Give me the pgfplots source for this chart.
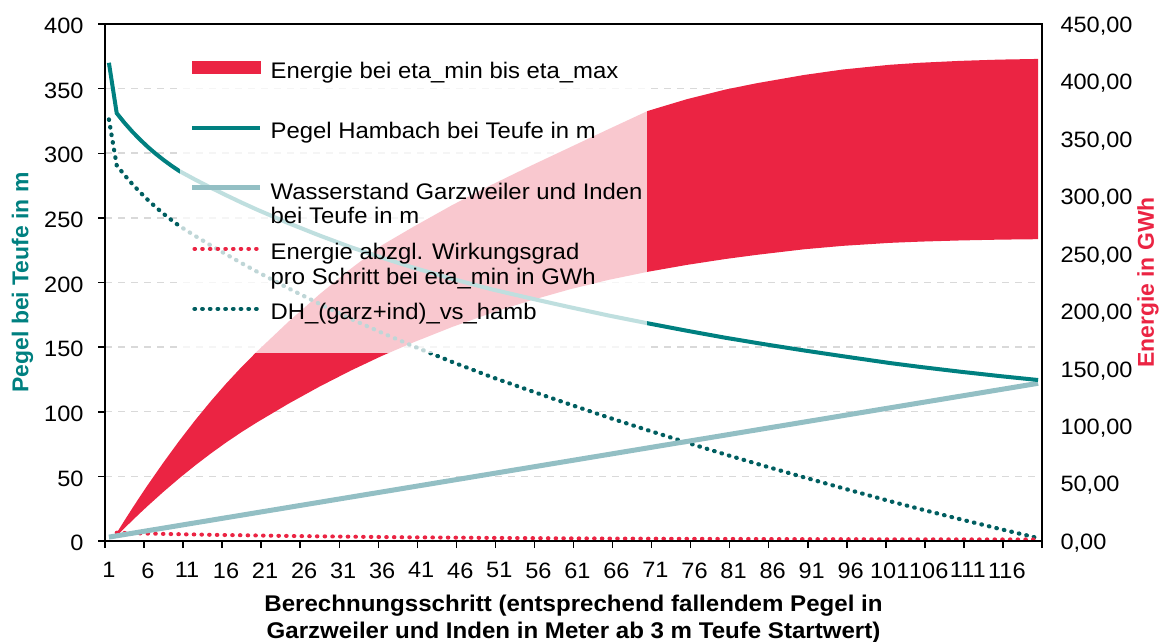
\documentclass[border=0pt]{standalone}
\usepackage{fontspec}
\setmainfont[FakeStretch=1.06]{Liberation Sans}
\newfontfamily\rotfont{Liberation Sans}
\usepackage{pgfplots}
\usepackage{pgfplotstable}
\pgfplotsset{compat=1.18}
\definecolor{redE}{RGB}{235,36,67}
\definecolor{tealP}{RGB}{0,128,128}
\definecolor{tealD}{RGB}{0,94,96}
\definecolor{blueW}{RGB}{147,191,196}
\definecolor{gridC}{RGB}{217,217,217}

% Energie (rechte Achse): Band zwischen eta_max (oben, vorwaerts) und eta_min (unten, rueckwaerts)
\pgfplotstableread{
i E
2 7.0
3 17.9
4 28.5
5 38.9
6 49.0
8 68.5
10 87.1
12 104.7
14 121.3
16 136.9
18 151.5
20 165.2
24 190.9
28 214.9
32 237.1
36 257.6
40 273.5
45 292.5
50 310.0
55 326.5
60 342.5
65 358.5
70 374.3
75 384.5
80 393.0
84 398.5
90 405.6
95 410.4
101 414.5
105 416.3
110 417.9
115 419.0
120 419.6
120 262.7
115 262.3
110 261.6
105 260.6
101 259.5
95 256.9
90 253.9
84 249.1
80 245.5
75 240.3
70 234.3
65 227.3
60 219.0
55 209.4
50 198.55
45 186.4
40 172.9
36 161.25
32 148.4
28 134.5
24 119.5
20 103.4
18 94.85
16 85.68
14 75.91
12 65.52
10 54.52
8 42.91
6 30.68
5 24.34
4 17.85
3 11.2
2 4.4
}\band

% Pegel Hambach (linke Achse) und DH (rechte Achse)
\pgfplotstableread{
i P DH
1 370 367
2 331 327
3 323.5 318.5
4 316.7 310.7
5 310.5 303.5
6 304.8 296.8
7 299.6 290.6
8 294.8 284.8
9 290.4 279.4
10 286.3 274.3
12 279.75 265.75
14 273.5 257.5
16 267.55 249.55
18 261.8 241.8
20 256.3 234.3
24 245.9 219.9
28 236.3 206.3
32 227.3 193.3
36 219.1 181.1
40 211.5 169.5
45 202.75 155.75
50 194.75 142.75
56 186.35 128.35
60 180.95 118.95
65 174.45 107.45
70 168.45 96.45
75 162.7 85.7
80 157.2 75.2
85 152.2 65.2
90 147.45 55.45
95 142.95 45.95
101 137.7 34.7
105 134.6 27.6
110 131.0 19.0
115 127.65 10.65
120 124.55 2.55
}\hamb

% Wasserstand Garzweiler und Inden (linke Achse)
\pgfplotstableread{
i W
1 3
20 22
40 42
60 62
80 82
100 102
120 122
}\wasser

% Energie abzgl. Wirkungsgrad pro Schritt (rechte Achse)
\pgfplotstableread{
i E
2 7.2
5 6.6
10 5.9
15 5.3
20 4.8
25 4.3
30 3.9
38 3.3
50 2.7
60 2.3
70 2.0
80 1.8
90 1.6
100 1.5
110 1.4
120 1.3
}\schritt

\begin{document}
\begin{tikzpicture}

% ---------- right axis (Energie) ----------
\begin{axis}[
  at={(0,0)}, anchor=south west,
  scale only axis, width=937bp, height=517bp,
  xmin=0.5, xmax=120.5, ymin=0, ymax=450,
  axis x line=none, axis y line*=right,
  axis line style={line width=2bp, black},
  ytick={0,50,...,450},
  ytick style={draw=none},
  yticklabel={\pgfmathprintnumber[fixed,fixed zerofill,precision=2,use comma,assume math mode=true]{\tick}},
  yticklabel style={font=\fontsize{22.3}{26}\selectfont, anchor=west, xshift=15bp, yshift=-2bp},
  extra y ticks={56.25,112.5,168.75,225,281.25,337.5,393.75},
  extra y tick labels={},
  extra y tick style={grid=major, major tick length=0pt},
  major grid style={gridC, line width=1.5bp, dash pattern=on 7bp off 6bp},
  ylabel={Energie in GWh},
  ylabel style={at={(axis description cs:1.1131,0.5)}, anchor=center,
    font=\rotfont\bfseries\fontsize{23}{26}\selectfont, text=redE, inner sep=0pt},
]
\addplot[fill=redE, draw=none, forget plot] table[x=i,y=E]{\band} -- cycle;
\addplot[tealD, line width=4.2bp, dash pattern=on 0.6bp off 7.1bp, line cap=round, forget plot] table[x=i,y=DH]{\hamb};
\addplot[redE, line width=4bp, dash pattern=on 0.6bp off 7.1bp, line cap=round, forget plot] table[x=i,y=E]{\schritt};
\end{axis}

% ---------- left axis (Pegel) ----------
\begin{axis}[
  at={(0,0)}, anchor=south west,
  scale only axis, width=937bp, height=517bp,
  xmin=0.5, xmax=120.5, ymin=0, ymax=400,
  axis line style={line width=2bp, black},
  xtick={0.5,5.5,...,120.5},
  xticklabels={1,6,11,16,21,26,31,36,41,46,51,56,61,66,71,76,81,86,91,96,101,106,111,116,{}},
  xticklabel style={xshift=3.9bp, yshift=-11bp},
  yticklabel style={xshift=-11bp, yshift=-2bp},
  ytick={0,50,...,400},
  /pgf/number format/assume math mode=true,
  xtick pos=left, ytick pos=left,
  tick align=outside, major tick length=7bp,
  tick style={black, line width=1.5bp},
  tick label style={font=\fontsize{22.3}{26}\selectfont},
  xlabel={Berechnungsschritt (entsprechend fallendem Pegel in\\Garzweiler und Inden in Meter ab 3 m Teufe Startwert)},
  xlabel style={align=center, font=\bfseries\fontsize{22.8}{26.7}\selectfont,
    at={(axis description cs:0.5,0)}, anchor=north, yshift=-54bp, inner sep=0pt},
  ylabel={Pegel bei Teufe in m},
  ylabel style={at={(axis description cs:-0.088,0.5)}, anchor=center,
    font=\rotfont\bfseries\fontsize{23}{26}\selectfont, text=tealP, inner sep=0pt},
  legend style={at={(axis description cs:0.0907,0.9337)}, anchor=north west,
    draw=none, fill=none, inner sep=0pt, outer sep=0pt, row sep=0pt, column sep=0pt,
    font=\fontsize{22.6}{25}\selectfont, cells={anchor=base west},
    nodes={inner sep=0pt, text height=20bp, text depth=40.4bp},
    /tikz/every odd column/.style={column sep=7.7bp}},
]
\addlegendimage{legend image code/.code={\fill[redE] (0bp,5bp) rectangle (68bp,16.6bp);}}
\addlegendentry{Energie bei eta\_min bis eta\_max}
\addlegendimage{legend image code/.code={\draw[tealP, line width=4bp] (0bp,10.6bp) -- (68bp,10.6bp);}}
\addlegendentry{Pegel Hambach bei Teufe in m}
\addlegendimage{legend image code/.code={\draw[blueW, line width=5bp] (0bp,11.3bp) -- (68bp,11.3bp);}}
\addlegendentry{\vtop{\hbox{Wasserstand Garzweiler und Inden}\hbox{bei Teufe in m}}}
\addlegendimage{legend image code/.code={\draw[redE, line width=4bp, dash pattern=on 0.6bp off 7.1bp, line cap=round] (2bp,10.7bp) -- (68bp,10.7bp);}}
\addlegendentry{\vtop{\hbox{Energie abzgl. Wirkungsgrad}\hbox{pro Schritt bei eta\_min in GWh}}}
\addlegendimage{legend image code/.code={\draw[tealD, line width=4.2bp, dash pattern=on 0.6bp off 7.1bp, line cap=round] (2bp,11bp) -- (68bp,11bp);}}
\addlegendentry{DH\_(garz+ind)\_vs\_hamb}

\addplot[blueW, line width=5bp, forget plot] table[x=i,y=W]{\wasser};
\addplot[tealP, line width=4bp, forget plot] table[x=i,y=P]{\hamb};
\fill[white, fill opacity=0.75] (axis cs:10.1,145.1) rectangle (axis cs:69.85,390);
\end{axis}

\pgfresetboundingbox
\path[use as bounding box] (-105bp,-101bp) rectangle (1057bp,541bp);
\end{tikzpicture}
\end{document}
